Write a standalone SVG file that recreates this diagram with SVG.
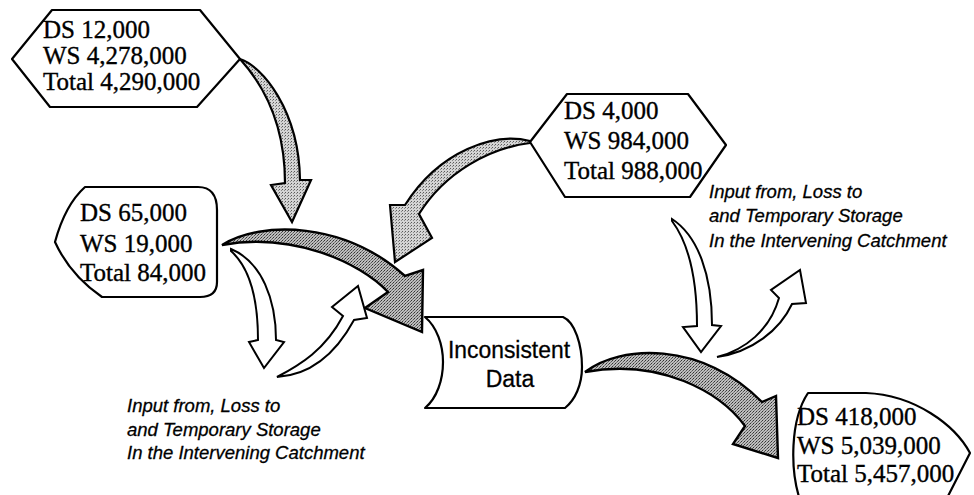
<svg xmlns="http://www.w3.org/2000/svg" width="974" height="495" viewBox="0 0 974 495">
  <defs>
    <!-- halftone fill used by the shaded flow arrows -->
    <pattern id="stipple" width="3" height="3" patternUnits="userSpaceOnUse">
      <rect width="3" height="3" fill="#d4d4d4"/>
      <rect x="0" y="0" width="1" height="1" fill="#5a5a5a"/>
      <rect x="2" y="1" width="1" height="1" fill="#8a8a8a"/>
    </pattern>
    <pattern id="stippleDark" width="3" height="3" patternUnits="userSpaceOnUse">
      <rect width="3" height="3" fill="#bdbdbd"/>
      <rect x="0" y="0" width="1" height="1" fill="#333"/>
      <rect x="2" y="1" width="1" height="1" fill="#555"/>
      <rect x="1" y="2" width="1" height="1" fill="#777"/>
    </pattern>
    <style>
      .box { fill: #fff; stroke: #000; stroke-width: 2.2; stroke-linejoin: round; }
      .num { font-family: "Liberation Serif", "Times New Roman", serif; font-size: 25px; fill: #000; stroke: #000; stroke-width: 0.35; }
      .note { font-family: "Liberation Sans", Arial, sans-serif; font-style: italic; font-size: 18.5px; fill: #000; stroke: #000; stroke-width: 0.3; }
      .label { font-family: "Liberation Sans", Arial, sans-serif; font-size: 23px; fill: #000; stroke: #000; stroke-width: 0.3; }
      .shaded { fill: url(#stipple); stroke: #000; stroke-width: 2.2; stroke-linejoin: miter; }
      .shadedDark { fill: url(#stippleDark); stroke: #000; stroke-width: 2.4; stroke-linejoin: miter; }
      .hollow { fill: #fff; stroke: #000; stroke-width: 2; stroke-linejoin: miter; }
    </style>
  </defs>

  <!-- flow arrows -->
  <g id="connectors">
    <!-- upper gauge to lower reach -->
    <path class="shaded" d="M240,59 C262,66 299,110 300,180 L311,180 L292,222 L271,185 L285,183 C285,130 268,90 240,59 Z"/>
    <!-- tributary gauge to the junction -->
    <path class="shaded" d="M530,141 C495,132 440,150 405,205 L390,205 L395,262 L432,238 L419,214 C445,172 490,148 530,143 Z"/>
    <!-- local gauge into the inconsistent data box -->
    <path class="shadedDark" d="M222,245 C262,220 345,222 405,276 L423,270 L422,332 L365,308 L388,292 C360,262 292,232 222,245 Z"/>
    <!-- inconsistent data to downstream gauge -->
    <path class="shadedDark" d="M585,372 C620,345 700,340 762,402 L776,396 L778,458 L733,444 L745,426 C720,392 660,358 585,372 Z"/>
    <!-- intervening catchment exchange, left -->
    <path class="hollow" d="M231,249 C262,262 276,300 276,340 L284,342 L264,368 L249,342 L258,340 C258,300 250,268 231,251 Z"/>
    <path class="hollow" d="M277,377 C300,365 325,350 343,316 L332,307 L358,286 L367,318 L354,320 C335,355 310,375 277,377 Z"/>
    <!-- intervening catchment exchange, right -->
    <path class="hollow" d="M672,219 C698,236 712,275 712,325 L721,326 L701,352 L683,327 L697,326 C697,282 690,245 672,221 Z"/>
    <path class="hollow" d="M717,357 C745,350 770,330 779,298 L771,290 L800,270 L806,303 L792,304 C780,330 752,352 717,357 Z"/>
  </g>

  <!-- upper gauge -->
  <g id="gauge-upper">
    <path class="box" d="M52,10 L200,10 L240,59 L197,107 L50,107 L12,59 Z"/>
    <text class="num" x="43" y="38">DS 12,000</text>
    <text class="num" x="43" y="64">WS 4,278,000</text>
    <text class="num" x="43" y="90">Total 4,290,000</text>
  </g>

  <!-- tributary gauge -->
  <g id="gauge-tributary">
    <path class="box" d="M567,94 L688,94 L726,145 L690,197 L565,197 L530,142 Z"/>
    <text class="num" x="564" y="119">DS 4,000</text>
    <text class="num" x="564" y="149">WS 984,000</text>
    <text class="num" x="564" y="179">Total 988,000</text>
  </g>

  <!-- local gauge -->
  <g id="gauge-local">
    <path class="box" d="M85,187 L198,187 Q217,187 217,210 L217,282 Q217,297 200,297 L102,297 Q70,275 55,242 Q65,205 85,187 Z"/>
    <text class="num" x="80" y="221">DS 65,000</text>
    <text class="num" x="80" y="252">WS 19,000</text>
    <text class="num" x="80" y="281">Total 84,000</text>
  </g>

  <!-- downstream gauge -->
  <g id="gauge-downstream">
    <path class="box" d="M808,393 L866,393 C915,395 955,425 970,453 L946,500 L800,500 C790,470 790,420 808,393 Z"/>
    <text class="num" x="797" y="425">DS 418,000</text>
    <text class="num" x="797" y="454">WS 5,039,000</text>
    <text class="num" x="797" y="482">Total 5,457,000</text>
  </g>

  <!-- inconsistent data -->
  <g id="inconsistent-data">
    <path class="box" d="M425,317 L563,317 C575,322 582,345 582,367 C582,385 575,400 565,408 L425,408 C437,398 443,380 443,362 C443,345 437,327 425,317 Z"/>
    <text class="label" x="509" y="358" text-anchor="middle" textLength="122" lengthAdjust="spacingAndGlyphs">Inconsistent</text>
    <text class="label" x="510" y="387" text-anchor="middle">Data</text>
  </g>

  <!-- catchment notes -->
  <g id="note-left">
    <text class="note" x="127" y="412">Input from, Loss to</text>
    <text class="note" x="127" y="436">and Temporary Storage</text>
    <text class="note" x="127" y="459">In the Intervening Catchment</text>
  </g>
  <g id="note-right">
    <text class="note" x="709" y="198">Input from, Loss to</text>
    <text class="note" x="709" y="222">and Temporary Storage</text>
    <text class="note" x="709" y="247">In the Intervening Catchment</text>
  </g>
</svg>
